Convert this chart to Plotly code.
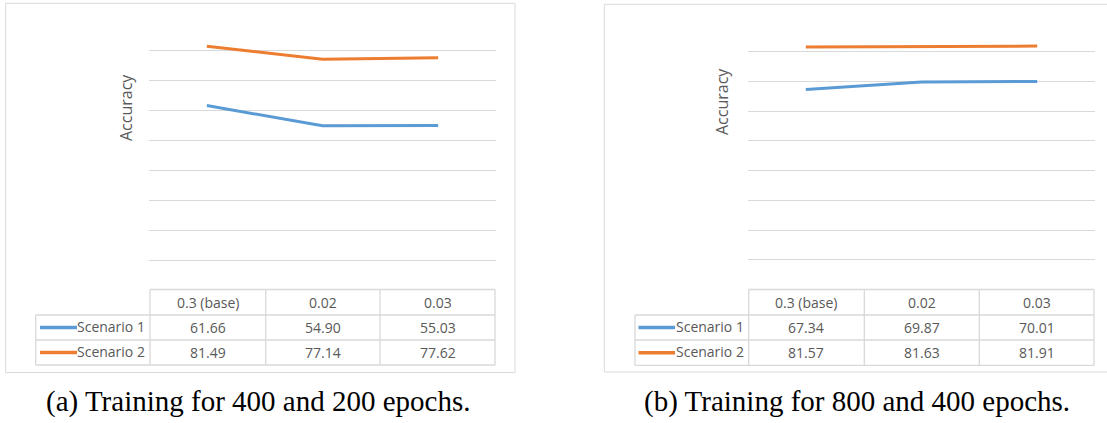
import plotly.graph_objects as go

# Data
categories = ["0.3 (base)", "0.02", "0.03"]
series_names = ["Scenario 1", "Scenario 2"]
scenario1_a = [61.66, 54.90, 55.03]
scenario2_a = [81.49, 77.14, 77.62]
scenario1_b = [67.34, 69.87, 70.01]
scenario2_b = [81.57, 81.63, 81.91]
captions = ["(a) Training for 400 and 200 epochs.",
            "(b) Training for 800 and 400 epochs."]
y_title = "Accuracy"

W, H = 1107, 423
BLUE, ORANGE = "#5B9BD5", "#ED7D31"
GRID = "#d9d9d9"
TXT = "#595959"
TFONT = dict(family="Open Sans", size=14, color=TXT)


def px(x):
    return x / W


def py(y):
    return 1 - y / H


# Panel geometry (pixels)
panels = [
    dict(series=[scenario1_a, scenario2_a], caption=captions[0],
         frame=(5.7, 3.3, 515, 372.5), plot_x=(149, 496), plot_y=(20.8, 290),
         cols=[150, 265.7, 380, 495], legend_x=35.7, rows=[289.5, 315, 340, 365],
         swatch=(40, 77), title_xy=(126, 108), cap_x=258),
    dict(series=[scenario1_b, scenario2_b], caption=captions[1],
         frame=(604.3, 4.3, 1112, 372), plot_x=(748, 1095), plot_y=(22, 289.7),
         cols=[748.7, 864.3, 979.3, 1094], legend_x=635, rows=[289.5, 315, 340, 365.3],
         swatch=(638.5, 675), title_xy=(722, 102), cap_x=857),
]

fig = go.Figure()
shapes, annotations = [], []
colors = [BLUE, ORANGE]

for i, p in enumerate(panels):
    sfx = "" if i == 0 else str(i + 1)
    for s, vals in enumerate(p["series"]):
        fig.add_trace(go.Scatter(
            x=categories, y=vals, mode="lines",
            line=dict(color=colors[s], width=3),
            xaxis="x" + sfx, yaxis="y" + sfx,
            showlegend=False, hoverinfo="skip"))

    x0, x1 = p["plot_x"]
    ytop, ybot = p["plot_y"]
    fig.update_layout(**{
        "xaxis" + sfx: dict(domain=[px(x0), px(x1)], range=[-0.5, 2.5],
                            type="category", showticklabels=False,
                            showgrid=False, zeroline=False, showline=False,
                            anchor="y" + sfx),
        "yaxis" + sfx: dict(domain=[py(ybot), py(ytop)], range=[0, 90], dtick=10,
                            showticklabels=False, showgrid=True, gridcolor=GRID,
                            gridwidth=1, zeroline=False, showline=False,
                            anchor="x" + sfx),
    })

    # chart frame
    fx0, fy0, fx1, fy1 = p["frame"]
    shapes.append(dict(type="rect", xref="paper", yref="paper",
                       x0=px(fx0), x1=px(fx1), y0=py(fy1), y1=py(fy0),
                       line=dict(color=GRID, width=1), layer="below"))

    # data table grid
    cols, rows = p["cols"], p["rows"]
    lx = p["legend_x"]
    for r, yv in enumerate(rows):
        left = cols[0] if r == 0 else lx
        shapes.append(dict(type="line", xref="paper", yref="paper",
                           x0=px(left), x1=px(cols[-1]), y0=py(yv), y1=py(yv),
                           line=dict(color=GRID, width=1.3)))
    for c in cols:
        shapes.append(dict(type="line", xref="paper", yref="paper",
                           x0=px(c), x1=px(c), y0=py(rows[0]), y1=py(rows[-1]),
                           line=dict(color=GRID, width=1.3)))
    shapes.append(dict(type="line", xref="paper", yref="paper",
                       x0=px(lx), x1=px(lx), y0=py(rows[1]), y1=py(rows[-1]),
                       line=dict(color=GRID, width=1.3)))

    # header labels
    for c, cat in enumerate(categories):
        cx = (cols[c] + cols[c + 1]) / 2
        annotations.append(dict(xref="paper", yref="paper", x=px(cx),
                                y=py((rows[0] + rows[1]) / 2), text=cat,
                                showarrow=False, xanchor="center",
                                yanchor="middle", font=TFONT))
    # series rows
    for s, vals in enumerate(p["series"]):
        ry = (rows[s + 1] + rows[s + 2]) / 2
        annotations.append(dict(xref="paper", yref="paper", x=px(cols[0] - 3),
                                y=py(ry - 1), text=series_names[s],
                                showarrow=False, xanchor="right",
                                yanchor="middle", font=TFONT))
        sx0, sx1 = p["swatch"]
        shapes.append(dict(type="line", xref="paper", yref="paper",
                           x0=px(sx0), x1=px(sx1), y0=py(ry), y1=py(ry),
                           line=dict(color=colors[s], width=3.5)))
        for c, v in enumerate(vals):
            cx = (cols[c] + cols[c + 1]) / 2
            annotations.append(dict(xref="paper", yref="paper", x=px(cx),
                                    y=py(ry), text=f"{v:.2f}",
                                    showarrow=False, xanchor="center",
                                    yanchor="middle", font=TFONT))

    # axis title
    tx, ty = p["title_xy"]
    annotations.append(dict(xref="paper", yref="paper", x=px(tx), y=py(ty),
                            text=y_title, textangle=-90, showarrow=False,
                            xanchor="center", yanchor="middle",
                            font=dict(family="Open Sans", size=16, color=TXT)))

    # caption
    annotations.append(dict(xref="paper", yref="paper", x=px(p["cap_x"]),
                            y=py(401), text=p["caption"], showarrow=False,
                            xanchor="center", yanchor="middle",
                            font=dict(family="Liberation Serif", size=29,
                                      color="#000000")))

fig.update_layout(width=W, height=H, autosize=False,
                  margin=dict(l=0, r=0, t=0, b=0),
                  paper_bgcolor="white", plot_bgcolor="white",
                  shapes=shapes, annotations=annotations)

fig.write_html("out.html")
